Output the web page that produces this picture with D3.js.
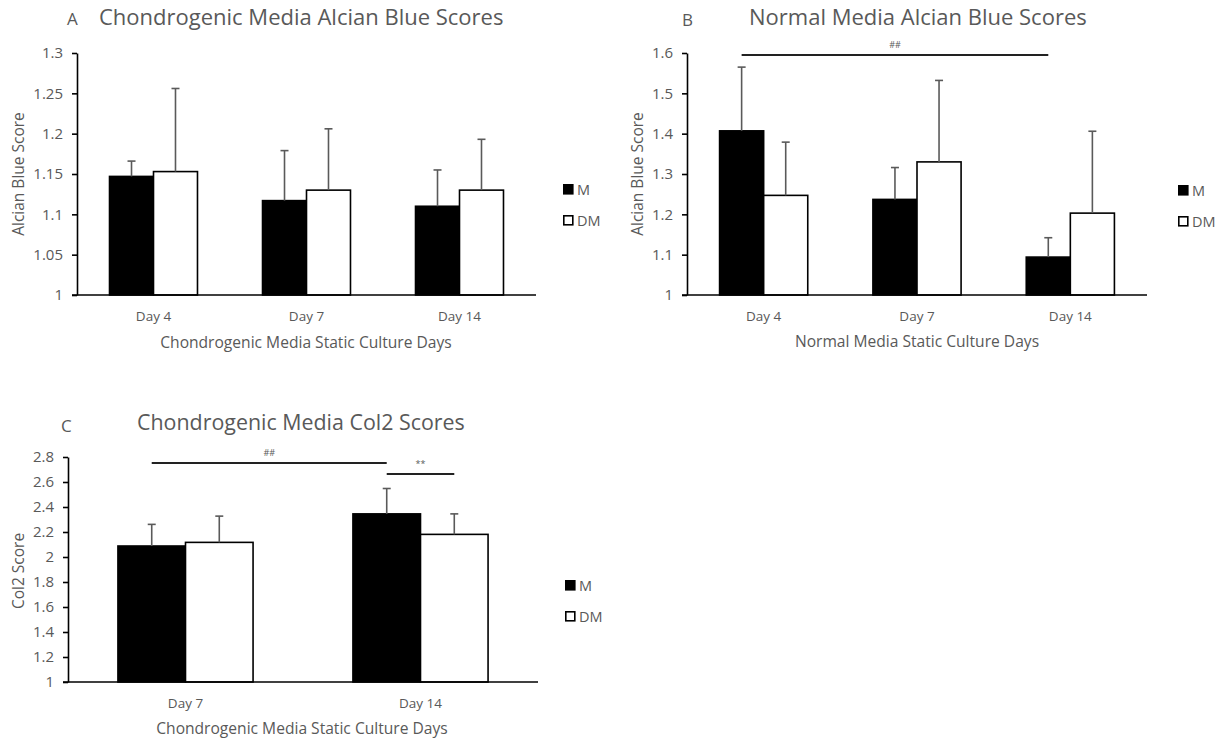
<!DOCTYPE html>
<html>
<head>
<meta charset="utf-8">
<script src="https://cdn.jsdelivr.net/npm/d3@7"></script>
<style>
  html, body { margin: 0; padding: 0; background: #fff; }
  svg { display: block; font-family: "Open Sans", "Noto Sans", sans-serif; }
</style>
</head>
<body>
<svg id="fig" width="1221" height="740"></svg>
<script>
// ---- data ----
const groups = ["M", "DM"];

const daysAlcian = ["Day 4", "Day 7", "Day 14"];
const chondroAlcianM = [1.147, 1.117, 1.110];
const chondroAlcianDM = [1.153, 1.130, 1.130];
const chondroAlcianMErr = [0.019, 0.062, 0.045];
const chondroAlcianDMErr = [0.103, 0.076, 0.063];
const chondroAlcianTicks = [1, 1.05, 1.1, 1.15, 1.2, 1.25, 1.3];

const normalAlcianM = [1.407, 1.237, 1.094];
const normalAlcianDM = [1.247, 1.330, 1.203];
const normalAlcianMErr = [0.158, 0.079, 0.048];
const normalAlcianDMErr = [0.132, 0.202, 0.203];
const normalAlcianTicks = [1, 1.1, 1.2, 1.3, 1.4, 1.5, 1.6];

const daysCol2 = ["Day 7", "Day 14"];
const col2M = [2.088, 2.345];
const col2DM = [2.117, 2.181];
const col2MErr = [0.173, 0.203];
const col2DMErr = [0.210, 0.164];
const col2Ticks = [1, 1.2, 1.4, 1.6, 1.8, 2, 2.2, 2.4, 2.6, 2.8];

// significance brackets: from bar -> to bar, at a given score level
const normalAlcianSig = [
  { label: "##", from: ["Day 4", "M"], to: ["Day 14", "M"], level: 1.595 }
];
const col2Sig = [
  { label: "##", from: ["Day 7", "M"], to: ["Day 14", "M"], level: 2.752 },
  { label: "**", from: ["Day 14", "M"], to: ["Day 14", "DM"], level: 2.664 }
];

// ---- drawing ----
const svg = d3.select("#fig");
const TEXT = "#595959";

function panel(opt) {
  const g = svg.append("g");
  const x0 = d3.scaleBand().domain(opt.days).range(opt.xRange)
    .paddingInner(0.425).paddingOuter(0.2125);
  const x1 = d3.scaleBand().domain(groups).range([0, x0.bandwidth()]);
  const y = d3.scaleLinear().domain(opt.yDomain).range(opt.yRange);
  const rows = opt.days.map((d, i) => ({
    day: d,
    vals: [
      { key: "M", v: opt.m[i], e: opt.mErr[i] },
      { key: "DM", v: opt.dm[i], e: opt.dmErr[i] }
    ]
  }));

  // bars
  const grp = g.selectAll("g.day").data(rows).join("g")
    .attr("transform", d => `translate(${x0(d.day)},0)`);
  grp.selectAll("rect").data(d => d.vals).join("rect")
    .attr("x", d => x1(d.key))
    .attr("y", d => y(d.v))
    .attr("width", x1.bandwidth())
    .attr("height", d => y(opt.yDomain[0]) - y(d.v))
    .attr("fill", d => d.key === "M" ? "#000" : "#fff")
    .attr("stroke", "#000")
    .attr("stroke-width", 1.6);

  // upper error whiskers
  grp.selectAll("g.err").data(d => d.vals).join("g").attr("class", "err")
    .each(function (d) {
      const cx = x1(d.key) + x1.bandwidth() / 2;
      const s = d3.select(this);
      s.append("line").attr("x1", cx).attr("x2", cx)
        .attr("y1", y(d.v)).attr("y2", y(d.v + d.e));
      s.append("line").attr("x1", cx - 4).attr("x2", cx + 4)
        .attr("y1", y(d.v + d.e)).attr("y2", y(d.v + d.e));
    })
    .selectAll("line").attr("stroke", "#5a5a5a").attr("stroke-width", 1.6);

  // y axis
  const ya = g.append("g").attr("transform", `translate(${opt.xRange[0]},0)`)
    .call(d3.axisLeft(y).tickValues(opt.ticks).tickSize(5).tickSizeOuter(0)
      .tickFormat(d3.format("~g")));
  ya.select(".domain").attr("stroke", "#000").attr("stroke-width", 1.6);
  ya.selectAll(".tick line").attr("stroke", "#000").attr("stroke-width", 1.6);
  ya.selectAll(".tick text").attr("fill", TEXT).attr("font-size", 15)
    .attr("x", -14).attr("font-family", "Open Sans");

  // x axis baseline
  const xa = g.append("g").attr("transform", `translate(0,${y(opt.yDomain[0])})`)
    .call(d3.axisBottom(x0).tickSize(0).tickSizeOuter(0));
  xa.select(".domain").attr("stroke", "#000").attr("stroke-width", 1.6)
    .attr("d", `M${opt.xRange[0] - 5},0H${opt.xRange[1]}`);
  xa.selectAll(".tick text").attr("fill", TEXT).attr("font-size", 13.5)
    .attr("font-family", "Open Sans").attr("y", opt.tickLabelDy).attr("dy", "0.35em");

  // axis titles
  g.append("text").attr("x", opt.xTitle[0]).attr("y", opt.xTitle[1])
    .attr("text-anchor", "middle").attr("dy", "0.35em")
    .attr("fill", TEXT).attr("font-size", 15.6).text(opt.xLabel);
  g.append("text")
    .attr("transform", `translate(${opt.yTitle[0]},${opt.yTitle[1]}) rotate(-90)`)
    .attr("text-anchor", "middle").attr("dy", "0.35em")
    .attr("fill", TEXT).attr("font-size", 15.5).text(opt.yLabel);

  // panel letter and title
  g.append("text").attr("x", opt.letter[0]).attr("y", opt.letter[1])
    .attr("fill", TEXT).attr("font-size", 17).text(opt.letterText);
  g.append("text").attr("x", opt.title[0]).attr("y", opt.title[1])
    .attr("fill", TEXT).attr("font-size", opt.titleSize).text(opt.titleText);

  // legend
  const lg = g.append("g").attr("transform", `translate(${opt.legend[0]},${opt.legend[1]})`);
  groups.forEach((k, i) => {
    lg.append("rect").attr("x", 0.8).attr("y", i * 31 + 0.8).attr("width", 9).attr("height", 9)
      .attr("fill", k === "M" ? "#000" : "#fff").attr("stroke", "#000").attr("stroke-width", 1.6);
    lg.append("text").attr("x", 14).attr("y", i * 31 + 5.5).attr("dy", "0.35em")
      .attr("fill", TEXT).attr("font-size", 14.5).text(k);
  });

  // significance brackets
  const barCenter = ([day, k]) => x0(day) + x1(k) + x1.bandwidth() / 2;
  (opt.sig || []).forEach(s => {
    const yy = y(s.level);
    g.append("line").attr("x1", barCenter(s.from)).attr("x2", barCenter(s.to))
      .attr("y1", yy).attr("y2", yy).attr("stroke", "#222").attr("stroke-width", 2);
    g.append("text").attr("x", (barCenter(s.from) + barCenter(s.to)) / 2).attr("y", yy - 7)
      .attr("text-anchor", "middle").attr("fill", TEXT).attr("font-size", 9).text(s.label);
  });
}

panel({
  days: daysAlcian, m: chondroAlcianM, dm: chondroAlcianDM,
  mErr: chondroAlcianMErr, dmErr: chondroAlcianDMErr,
  yDomain: [1, 1.3], ticks: chondroAlcianTicks,
  xRange: [77, 536], yRange: [295, 53], tickLabelDy: 21,
  xLabel: "Chondrogenic Media Static Culture Days", xTitle: [306, 343],
  yLabel: "Alcian Blue Score", yTitle: [19, 174],
  letterText: "A", letter: [67, 25],
  titleText: "Chondrogenic Media Alcian Blue Scores", title: [99, 25], titleSize: 22,
  legend: [563, 184]
});

panel({
  days: daysAlcian, m: normalAlcianM, dm: normalAlcianDM,
  mErr: normalAlcianMErr, dmErr: normalAlcianDMErr,
  yDomain: [1, 1.6], ticks: normalAlcianTicks,
  xRange: [687, 1147], yRange: [295, 53], tickLabelDy: 21,
  xLabel: "Normal Media Static Culture Days", xTitle: [917, 342],
  yLabel: "Alcian Blue Score", yTitle: [638, 174],
  letterText: "B", letter: [682, 26],
  titleText: "Normal Media Alcian Blue Scores", title: [749, 25], titleSize: 22,
  legend: [1178, 185],
  sig: normalAlcianSig
});

panel({
  days: daysCol2, m: col2M, dm: col2DM,
  mErr: col2MErr, dmErr: col2DMErr,
  yDomain: [1, 2.8], ticks: col2Ticks,
  xRange: [68, 538], yRange: [682, 457], tickLabelDy: 21,
  xLabel: "Chondrogenic Media Static Culture Days", xTitle: [302, 729],
  yLabel: "Col2 Score", yTitle: [19, 571],
  letterText: "C", letter: [61, 432],
  titleText: "Chondrogenic Media Col2 Scores", title: [137, 430], titleSize: 21.4,
  legend: [565, 580],
  sig: col2Sig
});
</script>
</body>
</html>
